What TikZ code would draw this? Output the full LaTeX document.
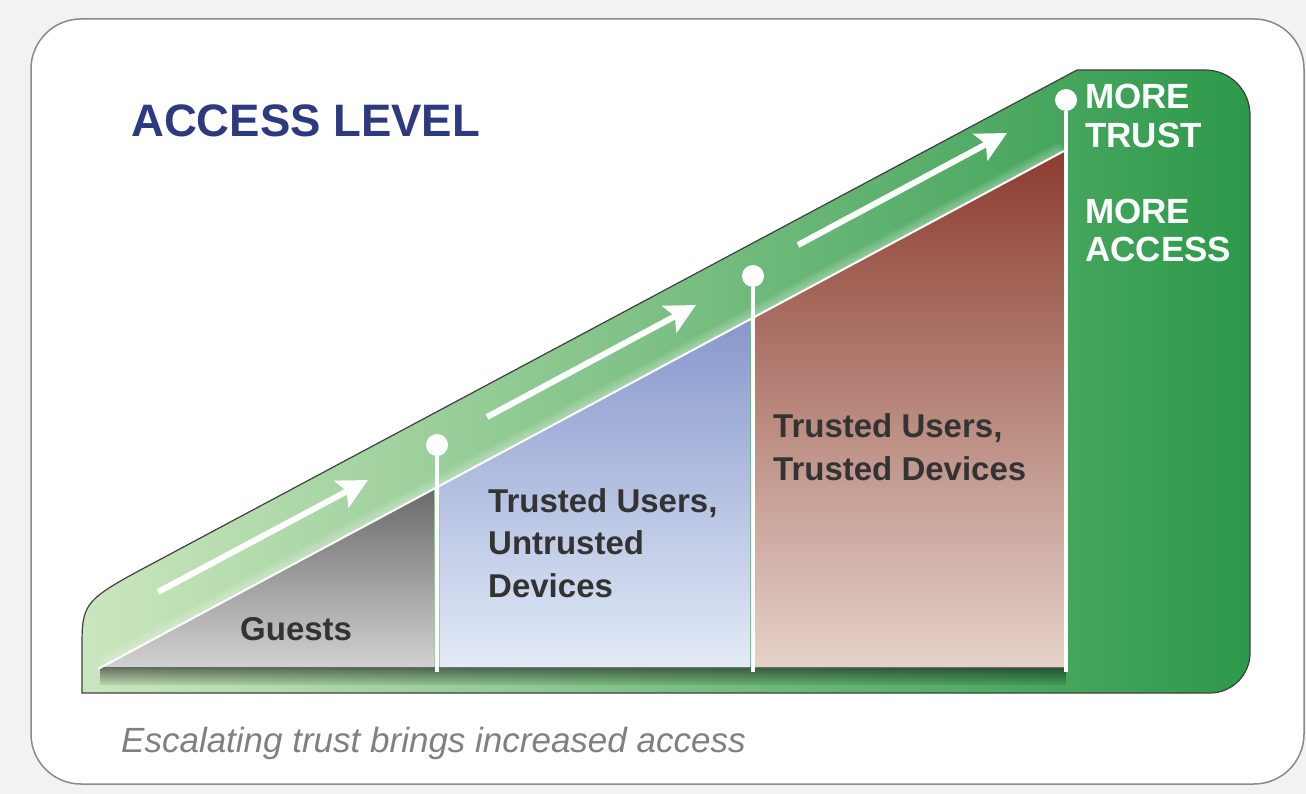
\documentclass[tikz,border=0pt]{standalone}
\usepackage{fontspec}
\setmainfont{Liberation Sans}
\usetikzlibrary{positioning,arrows.meta}
\definecolor{bggray}{HTML}{F2F2F2}
\definecolor{framegray}{HTML}{8A8A8A}
\definecolor{navy}{HTML}{2E3A80}
\definecolor{palegreen}{HTML}{CBE6BE}
\definecolor{deepgreen}{HTML}{2C994A}
\definecolor{guesttop}{HTML}{6A6A6A}
\definecolor{guestbot}{HTML}{D2D2D2}
\definecolor{bluetop}{HTML}{8797CC}
\definecolor{bluebot}{HTML}{E3EBF7}
\definecolor{redtop}{HTML}{8C3D2F}
\definecolor{redmid}{HTML}{CFA99F}
\definecolor{redbot}{HTML}{E5D2CA}
\definecolor{textgray}{HTML}{333333}
\definecolor{notegray}{HTML}{808080}
\tikzset{
  title/.style={anchor=base west, inner sep=0pt, text=navy,
    font=\bfseries\fontsize{45.5}{50}\selectfont},
  lbl/.style={anchor=base west, inner sep=0pt, align=left, text=textgray,
    font=\bfseries\fontsize{33}{42.5}\selectfont},
  side/.style={anchor=base west, inner sep=0pt, align=left, text=white,
    font=\bfseries\fontsize{35}{39}\selectfont},
  note/.style={anchor=base west, inner sep=0pt, text=notegray,
    font=\itshape\fontsize{35}{38}\selectfont},
  dot/.style={circle, fill=white, minimum size=22pt, inner sep=0pt},
  div/.style={white, line width=4pt},
  up/.style={white, line width=6pt, -{Stealth[length=30pt,width=30pt,inset=6pt]}},
}
\begin{document}
\begin{tikzpicture}[x=1pt,y=-1pt]

              \fill[bggray] (0,0) rectangle (1306,794);
              \useasboundingbox (0,0) rectangle (1306,794);
              \filldraw[fill=white, draw=framegray, line width=1.5pt, rounded corners=50pt]
                (31,19) rectangle (1304,784);

              \draw[line width=1.2pt, draw=black!75, left color=palegreen, right color=deepgreen]
                (82,693) -- (82,650) .. controls (82,601) .. (161,559) -- (1077,70) -- (1205,70)
                .. controls (1230,70) and (1250,90) .. (1250,115) -- (1250,653)
                .. controls (1250,675) and (1232,693) .. (1210,693) -- cycle;

              \foreach \j in {1,...,5}
                \draw[white, opacity=.07, line width=4*\j pt, line cap=round] (110,662) -- (1058,154);

              \shade[top color=guesttop, bottom color=guestbot]
                (98,669) -- (434,489) -- (434,668) -- (100,668) -- cycle;
              \shade[top color=bluetop, bottom color=bluebot]
                (440,486) -- (750,319) -- (750,668) -- (440,668) -- cycle;
              \shade[top color=redtop, middle color=redmid, bottom color=redbot]
                (755,317) -- (1064,151) -- (1064,668) -- (755,668) -- cycle;

              \foreach \i in {0,...,8}
                \fill[black, opacity=.5-.05*\i] (100,667+2*\i) rectangle (1066,669+2*\i);

              \draw[white, line width=2pt] (98,669) -- (1064,151);

              \foreach \n/\x/\y in {d1/437/445, d2/753/276, d3/1066/100} {
                \node[dot] (\n) at (\x,\y) {};
                \coordinate (\n-b) at (\x,672);
                \draw[div] (\n) -- (\n-b);
              }

              \coordinate (a1) at (158,592);
              \coordinate (b1) at (368,480);
              \coordinate (a2) at (487,417);
              \coordinate (b2) at (696,305);
              \coordinate (a3) at (798,245);
              \coordinate (b3) at (1007,133);
              \draw[up] (a1) -- (b1);
              \draw[up] (a2) -- (b2);
              \draw[up] (a3) -- (b3);

              \node[title] (head) at (131,137) {ACCESS LEVEL};
              \node[lbl] (guests) at (240,640) {Guests};
              \node[lbl] (tuud) at (488,597) {Trusted Users,\\Untrusted\\Devices};
              \node[lbl] (tutd) at (773,480) {Trusted Users,\\Trusted Devices};
              \node[side] (trust) at (1085,148) {MORE\\TRUST};
              \node[side] (access) at (1085,262) {MORE\\ACCESS};
              \node[note] (caption) at (121,752) {Escalating trust brings increased access};

\end{tikzpicture}
\end{document}
